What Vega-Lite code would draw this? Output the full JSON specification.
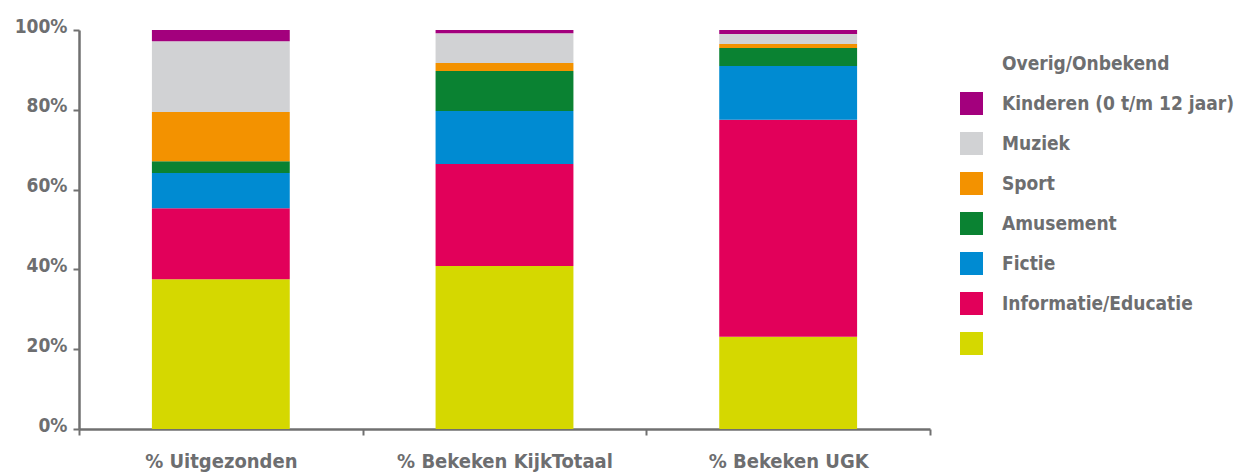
{
  "$schema": "https://vega.github.io/schema/vega-lite/v6.json",
  "width": 851,
  "height": 399,
  "autosize": {"type": "none"},
  "padding": {"left": 79, "top": 30, "right": 305, "bottom": 44},
  "background": "white",
  "config": {
    "view": {"stroke": null},
    "font": "DejaVu Sans Condensed",
    "axis": {
      "domainColor": "#707070",
      "domainWidth": 2.5,
      "tickColor": "#707070",
      "tickWidth": 2,
      "tickSize": 6,
      "labelFont": "DejaVu Sans Condensed",
      "labelFontWeight": "bold",
      "labelColor": "#6d6e70",
      "grid": false,
      "title": null
    }
  },
  "data": {
    "values": [
      {"kanaal": "% Uitgezonden", "genre": " ", "pct": 37.6},
      {"kanaal": "% Uitgezonden", "genre": "Informatie/Educatie", "pct": 17.8},
      {"kanaal": "% Uitgezonden", "genre": "Fictie", "pct": 8.8},
      {"kanaal": "% Uitgezonden", "genre": "Amusement", "pct": 3.0},
      {"kanaal": "% Uitgezonden", "genre": "Sport", "pct": 12.3},
      {"kanaal": "% Uitgezonden", "genre": "Muziek", "pct": 17.8},
      {"kanaal": "% Uitgezonden", "genre": "Kinderen (0 t/m 12 jaar)", "pct": 2.8},
      {"kanaal": "% Bekeken KijkTotaal", "genre": " ", "pct": 40.9},
      {"kanaal": "% Bekeken KijkTotaal", "genre": "Informatie/Educatie", "pct": 25.6},
      {"kanaal": "% Bekeken KijkTotaal", "genre": "Fictie", "pct": 13.3},
      {"kanaal": "% Bekeken KijkTotaal", "genre": "Amusement", "pct": 10.0},
      {"kanaal": "% Bekeken KijkTotaal", "genre": "Sport", "pct": 2.0},
      {"kanaal": "% Bekeken KijkTotaal", "genre": "Muziek", "pct": 7.5},
      {"kanaal": "% Bekeken KijkTotaal", "genre": "Kinderen (0 t/m 12 jaar)", "pct": 0.8},
      {"kanaal": "% Bekeken UGK", "genre": " ", "pct": 23.1},
      {"kanaal": "% Bekeken UGK", "genre": "Informatie/Educatie", "pct": 54.4},
      {"kanaal": "% Bekeken UGK", "genre": "Fictie", "pct": 13.5},
      {"kanaal": "% Bekeken UGK", "genre": "Amusement", "pct": 4.5},
      {"kanaal": "% Bekeken UGK", "genre": "Sport", "pct": 1.0},
      {"kanaal": "% Bekeken UGK", "genre": "Muziek", "pct": 2.5},
      {"kanaal": "% Bekeken UGK", "genre": "Kinderen (0 t/m 12 jaar)", "pct": 1.0}
    ]
  },
  "transform": [
    {"calculate": "{' ': 0, 'Informatie/Educatie': 1, 'Fictie': 2, 'Amusement': 3, 'Sport': 4, 'Muziek': 5, 'Kinderen (0 t/m 12 jaar)': 6}[datum.genre]", "as": "volgorde"}
  ],
  "mark": {"type": "bar", "width": {"band": 0.486}},
  "encoding": {
    "x": {
      "field": "kanaal",
      "type": "nominal",
      "sort": ["% Uitgezonden", "% Bekeken KijkTotaal", "% Bekeken UGK"],
      "scale": {"paddingInner": 0, "paddingOuter": 0},
      "axis": {
        "tickBand": "extent",
        "labelAngle": 0,
        "labelFontSize": 20,
        "labelPadding": 16,
        "labelLimit": 400
      }
    },
    "y": {
      "field": "pct",
      "type": "quantitative",
      "stack": "normalize",
      "scale": {"domain": [0, 1]},
      "axis": {
        "values": [0, 0.2, 0.4, 0.6, 0.8, 1],
        "format": ".0%",
        "labelFontSize": 19,
        "labelPadding": 6,
        "labelBaseline": "alphabetic",
        "labelOffset": 2
      }
    },
    "order": {"field": "volgorde", "type": "quantitative", "sort": "ascending"},
    "color": {
      "field": "genre",
      "type": "nominal",
      "scale": {
        "domain": ["Overig/Onbekend", "Kinderen (0 t/m 12 jaar)", "Muziek", "Sport", "Amusement", "Fictie", "Informatie/Educatie", " "],
        "range": ["#ffffff", "#a3007d", "#d1d2d4", "#f39200", "#0a8232", "#008bd2", "#e2005a", "#d5d800"]
      },
      "legend": {
        "orient": "none",
        "legendX": 881,
        "legendY": 22,
        "title": null,
        "symbolType": "square",
        "symbolSize": 529,
        "symbolStrokeWidth": 0,
        "symbolOpacity": 1,
        "labelFont": "DejaVu Sans Condensed",
        "labelFontWeight": "bold",
        "labelFontSize": 19,
        "labelColor": "#6d6e70",
        "labelOffset": 19,
        "rowPadding": 17,
        "labelLimit": 400
      }
    }
  }
}
